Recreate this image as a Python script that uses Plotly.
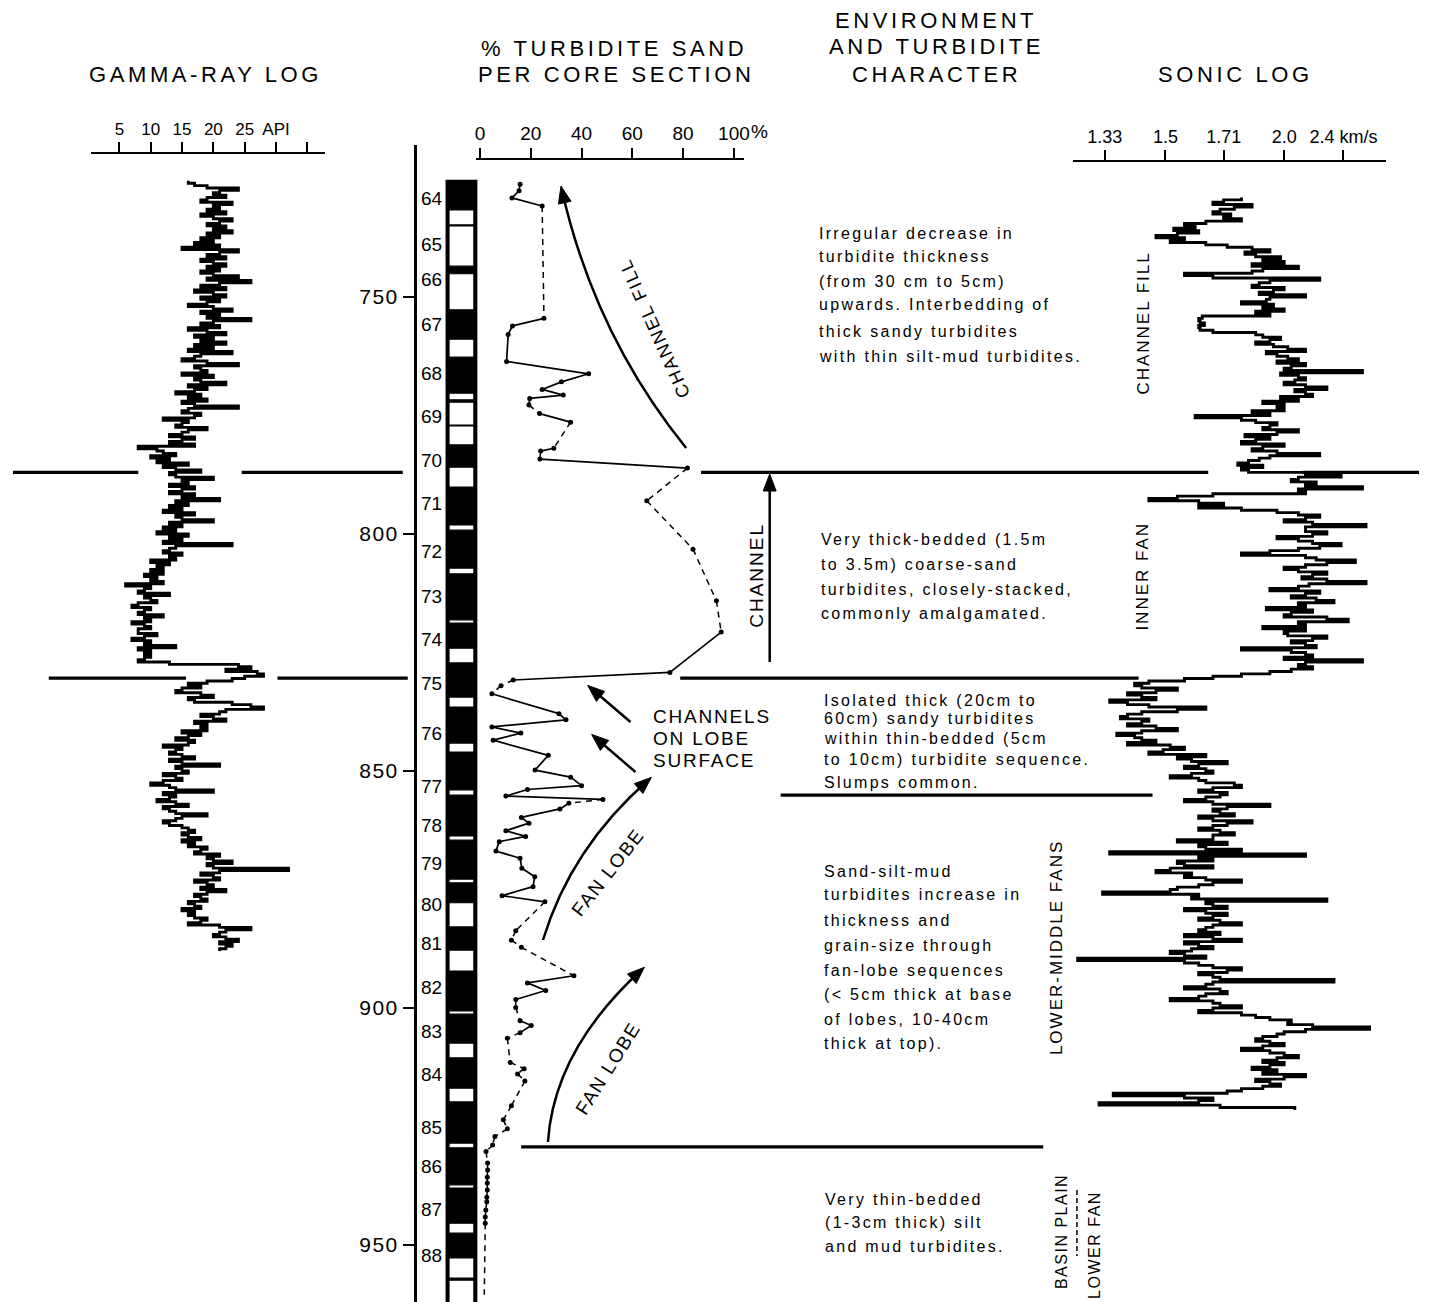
import math
import plotly.graph_objects as go

W, H = 1432, 1302          # browser window
OFF = 8                    # default page body margin
FW, FH = W - OFF, H - OFF  # figure size so that the page fits the window
FONT = "Liberation Sans"

# ---------------- data ----------------
DEPTH_TICKS = [750, 800, 850, 900, 950]

GR_TICKS = [5, 10, 15, 20, 25, 30, 35]
GR_TICK_TEXT = ["5", "10", "15", "20", "25", "API", ""]

SAND_TICKS = [0, 20, 40, 60, 80, 100]
SAND_TICK_TEXT = ["0", "20", "40", "60", "80", "100"]

SONIC_TICK_KMS = [1.33, 1.5, 1.71, 2.0, 2.4]
SONIC_TICK_TEXT = ["1.33", "1.5", "1.71", "2.0", "2.4 km/s"]

# gamma-ray log, API units, sampled every 0.5 m from 725.5 m
GR_TOP = 725.5
GR_STEP = 0.5
GR_API = [
    16, 17, 19, 24, 21, 20, 22, 19, 18, 23,
    20, 21, 19, 22, 18, 20, 23, 21, 19, 22,
    20, 23, 19, 21, 18, 20, 17, 21, 15, 24,
    21, 19, 22, 18, 20, 22, 19, 21, 18, 20,
    24, 19, 26, 21, 18, 22, 17, 20, 22, 18,
    21, 19, 16, 20, 23, 18, 21, 19, 26, 20,
    18, 21, 16, 19, 22, 17, 20, 18, 22, 17,
    20, 16, 23, 18, 17, 15, 19, 24, 17, 18,
    19, 15, 20, 17, 18, 22, 16, 19, 17, 14,
    18, 16, 19, 15, 17, 24, 16, 15, 18, 17,
    12, 16, 15, 14, 19, 16, 15, 13, 17, 15,
    13, 17, 8, 11, 12, 14, 10, 13, 11, 16,
    12, 14, 18, 13, 14, 20, 15, 16, 13, 17,
    15, 13, 17, 15, 21, 14, 16, 13, 15, 12,
    17, 14, 15, 20, 13, 15, 12, 14, 11, 16,
    13, 15, 12, 23, 14, 13, 12, 15, 13, 14,
    10, 13, 11, 12, 10, 12, 9, 11, 10, 12,
    6, 10, 9, 8, 13, 9, 10, 11, 8, 7,
    10, 9, 8, 12, 9, 10, 7, 9, 10, 8,
    8, 11, 9, 7, 10, 9, 14, 8, 10, 9,
    10, 9, 8, 13, 24, 26, 22, 27, 28, 25,
    23, 19, 16, 18, 15, 14, 18, 20, 16, 17,
    23, 26, 28, 22, 21, 18, 20, 22, 17, 19,
    18, 19, 15, 18, 16, 14, 17, 16, 12, 15,
    14, 13, 15, 17, 13, 15, 21, 14, 15, 16,
    12, 14, 15, 12, 10, 13, 14, 20, 12, 14,
    13, 11, 14, 16, 12, 13, 14, 19, 15, 14,
    12, 13, 15, 16, 17, 15, 16, 18, 15, 17,
    16, 19, 18, 17, 21, 19, 20, 23, 19, 20,
    32, 21, 18, 20, 21, 17, 19, 20, 18, 22,
    19, 17, 18, 19, 16, 17, 18, 15, 17, 16,
    17, 19, 18, 16, 21, 26, 22, 21, 20, 22,
    24, 21, 23, 22, 21,
]

# sonic log, interval transit time (us/m), sampled every 0.5 m from 729.0 m
SONIC_TOP = 729.0
SONIC_STEP = 0.5
SONIC_DT = [
    560, 585, 600, 545, 570, 590, 600, 575, 585, 560,
    610, 640, 625, 655, 620, 650, 680, 640, 660, 610,
    580, 545, 520, 555, 540, 505, 530, 500, 545, 480,
    530, 545, 640, 600, 450, 520, 535, 545, 500, 515,
    535, 470, 520, 525, 560, 515, 530, 500, 540, 520,
    615, 620, 618, 612, 620, 618, 600, 540, 530, 505,
    520, 540, 515, 495, 470, 525, 510, 495, 480, 510,
    470, 490, 500, 390, 505, 480, 470, 485, 500, 470,
    440, 485, 470, 460, 505, 480, 530, 500, 510, 500,
    545, 520, 625, 560, 540, 510, 520, 530, 480, 510,
    555, 520, 540, 560, 500, 530, 545, 510, 450, 520,
    535, 550, 565, 530, 560, 550, 470, 420, 480, 490,
    455, 470, 390, 480, 470, 600, 650, 690, 620, 585,
    620, 560, 510, 480, 450, 470, 500, 460, 385, 470,
    470, 440, 460, 510, 480, 460, 420, 450, 480, 520,
    560, 470, 455, 400, 440, 470, 500, 480, 440, 460,
    475, 440, 385, 465, 480, 520, 450, 470, 490, 455,
    430, 480, 470, 525, 460, 490, 500, 440, 410, 480,
    470, 530, 470, 500, 495, 440, 460, 490, 470, 455,
    560, 490, 470, 460, 500, 390, 470, 480, 460, 490,
    520, 560, 600, 640, 690, 710, 700, 650, 680, 720,
    700, 680, 745, 720, 690, 610, 650, 700, 720, 730,
    690, 700, 720, 680, 650, 700, 735, 710, 700, 680,
    720, 660, 640, 670, 690, 610, 650, 630, 580, 620,
    640, 610, 600, 630, 660, 620, 610, 570, 560, 600,
    620, 580, 590, 610, 640, 600, 520, 580, 600, 590,
    570, 620, 600, 545, 580, 600, 620, 590, 570, 600,
    600, 650, 580, 620, 610, 560, 745, 470, 620, 600,
    650, 640, 600, 660, 680, 630, 640, 610, 560, 600,
    620, 650, 660, 755, 620, 630, 440, 610, 600, 580,
    640, 610, 580, 600, 620, 590, 560, 600, 610, 620,
    590, 640, 600, 560, 640, 620, 600, 630, 660, 640,
    610, 790, 640, 620, 600, 560, 580, 620, 600, 590,
    430, 600, 610, 640, 590, 580, 610, 620, 660, 600,
    590, 560, 600, 620, 560, 540, 520, 490, 495, 460,
    380, 470, 500, 510, 530, 540, 520, 500, 530, 560,
    520, 500, 480, 510, 530, 500, 520, 545, 510, 530,
    470, 500, 540, 520, 505, 530, 560, 580, 740, 640,
    600, 620, 760, 590, 485,
]

# % turbidite sand per core section
SAND_DEPTH = [
    726.2, 727.6, 729.1, 730.8, 754.5, 756.1, 757.9, 763.6, 766.2, 767.9,
    769.5, 770.7, 771.4, 772.8, 774.6, 776.4, 781.9, 782.5, 784.2, 786.1,
    793.0, 803.2, 814.1, 820.7, 829.2, 830.8, 832.0, 833.7, 837.9, 839.2,
    840.7, 842.0, 843.5, 846.7, 849.8, 851.3, 853.1, 853.9, 855.3, 856.0,
    856.8, 858.0, 859.8, 861.0, 862.6, 863.8, 864.9, 866.9, 868.4, 870.5,
    872.3, 874.4, 876.3, 877.6, 883.7, 885.7, 887.2, 893.2, 894.7, 896.3,
    898.2, 899.9, 902.7, 903.7, 905.2, 906.4, 911.5, 912.8, 913.9, 915.4,
    920.6, 923.6, 925.5, 927.1, 928.9, 930.3, 932.7, 934.2, 935.7, 936.9,
    938.4, 939.9, 940.9, 942.6, 944.1, 945.4, 960.5,
]
SAND_PCT = [
    15.8, 15.4, 12.6, 24.5, 25.2, 12.8, 11.1, 10.5, 42.8, 32.1,
    24.5, 32.8, 19.6, 19.3, 23.5, 35.7, 29.1, 23.9, 23.6, 81.7,
    65.7, 83.9, 93.1, 95.0, 74.8, 13.1, 8.3, 4.7, 31.1, 33.9,
    4.7, 16.1, 5.2, 26.9, 21.7, 35.7, 40.0, 18.7, 10.2, 48.4,
    35.0, 31.5, 16.3, 19.3, 10.2, 18.0, 7.6, 6.3, 15.8, 16.5,
    21.6, 20.9, 8.7, 25.6, 14.1, 12.4, 16.3, 37.0, 18.7, 25.9,
    14.1, 14.1, 15.8, 20.2, 15.8, 10.8, 11.9, 17.4, 14.8, 17.7,
    12.4, 9.2, 10.8, 5.9, 5.0, 2.4, 3.0, 3.0, 2.9, 2.9,
    2.9, 2.7, 2.7, 2.3, 2.1, 2.1, 1.7,
]
SAND_DASHED_SEGMENTS = [0, 3, 13, 15, 17, 19, 20, 21, 22, 25, 26, 39, 53, 54, 55,
                        56, 60, 61, 64, 65] + list(range(66, 86))

# core sections
CORE_NUMBERS = list(range(64, 89))
CORE_LABEL_DEPTH = [729.3, 739.0, 746.3, 755.7, 766.2, 775.3, 784.4, 793.5, 803.7,
                    813.2, 822.2, 831.6, 842.0, 853.2, 861.4, 869.6, 878.1, 886.4,
                    895.6, 905.0, 914.1, 925.3, 933.5, 942.5, 952.3]
CORE_TOP = 725.5
CORE_BOTTOM = 962.5
CORE_GAPS = [(731.6, 734.8), (735.0, 743.5), (745.1, 752.7), (758.9, 762.7),
             (770.3, 771.7), (772.2, 777.0), (777.2, 781.2), (785.9, 790.1),
             (798.1, 799.2), (807.2, 808.4), (818.1, 818.8), (824.1, 827.2),
             (834.4, 836.5), (844.1, 846.0), (854.0, 855.1), (863.7, 864.6),
             (872.8, 873.6), (877.8, 882.9), (887.8, 892.2), (900.6, 901.3),
             (907.4, 910.5), (916.9, 919.8), (928.5, 929.5), (937.3, 938.0),
             (945.4, 947.5), (952.7, 957.0), (957.4, 962.5)]

# environment boundaries (depth, m)
BOUNDARY_DEPTHS = [787.0, 830.4, 855.1, 929.3]

# ---------------- helpers (page pixels -> paper) ----------------
def px(x):
    return (x - OFF) / FW


def py(y):
    return 1 - (y - OFF) / FH


DEPTH_TOP_PX = 145
PX_PER_M = 4.74
Y_TOP = 750 - (297 - DEPTH_TOP_PX) / PX_PER_M
Y_BOT = 750 + (H - 297) / PX_PER_M

shapes = []
annotations = []


def text(x, y, s, size, xanchor="center", angle=0, ls=0):
    t = f'<span style="letter-spacing:{ls}px">{s}</span>' if ls else s
    annotations.append(dict(
        x=px(x), y=py(y), xref="paper", yref="paper", text=t, showarrow=False,
        xanchor=xanchor, yanchor="middle", textangle=angle,
        font=dict(family=FONT, size=size, color="black")))


def arrow(points, head=17, half=6.5, width=2.5):
    if len(points) == 2:
        (x0, y0), (x1, y1) = points
        cx, cy = x0, y0
        path = f"M {px(x0)},{py(y0)} L {px(x1)},{py(y1)}"
    else:
        (x0, y0), (cx, cy), (x1, y1) = points
        path = f"M {px(x0)},{py(y0)} Q {px(cx)},{py(cy)} {px(x1)},{py(y1)}"
    shapes.append(dict(type="path", path=path, xref="paper", yref="paper",
                       line=dict(color="black", width=width)))
    dx, dy = x1 - cx, y1 - cy
    n = math.hypot(dx, dy)
    ux, uy = dx / n, dy / n
    tipx, tipy = x1 + ux * 4, y1 + uy * 4
    bx, by = tipx - ux * head, tipy - uy * head
    p1 = (bx - uy * half, by + ux * half)
    p2 = (bx + uy * half, by - ux * half)
    tri = (f"M {px(tipx)},{py(tipy)} L {px(p1[0])},{py(p1[1])} "
           f"L {px(p2[0])},{py(p2[1])} Z")
    shapes.append(dict(type="path", path=tri, xref="paper", yref="paper",
                       fillcolor="black", line=dict(color="black", width=1)))


# ---------------- traces ----------------
fig = go.Figure()

LOG_W = 2.9
gr_depth = [GR_TOP + i * GR_STEP for i in range(len(GR_API) + 1)]
fig.add_trace(go.Scatter(x=GR_API + [GR_API[-1]], y=gr_depth, mode="lines",
                         line=dict(color="black", width=LOG_W, shape="vh"),
                         xaxis="x", yaxis="y", hoverinfo="skip"))

son_depth = [SONIC_TOP + i * SONIC_STEP for i in range(len(SONIC_DT) + 1)]
fig.add_trace(go.Scatter(x=SONIC_DT + [SONIC_DT[-1]], y=son_depth, mode="lines",
                         line=dict(color="black", width=LOG_W, shape="vh"),
                         xaxis="x3", yaxis="y", hoverinfo="skip"))

sx, sy, dx_, dy_ = [], [], [], []
for i in range(len(SAND_DEPTH) - 1):
    if i in SAND_DASHED_SEGMENTS:
        dx_ += [SAND_PCT[i], SAND_PCT[i + 1], None]
        dy_ += [SAND_DEPTH[i], SAND_DEPTH[i + 1], None]
    else:
        sx += [SAND_PCT[i], SAND_PCT[i + 1], None]
        sy += [SAND_DEPTH[i], SAND_DEPTH[i + 1], None]
fig.add_trace(go.Scatter(x=sx, y=sy, mode="lines", line=dict(color="black", width=1.7),
                         xaxis="x2", yaxis="y", hoverinfo="skip"))
fig.add_trace(go.Scatter(x=dx_, y=dy_, mode="lines",
                         line=dict(color="black", width=1.5, dash="6px,5px"),
                         xaxis="x2", yaxis="y", hoverinfo="skip"))
fig.add_trace(go.Scatter(x=SAND_PCT[:-1], y=SAND_DEPTH[:-1], mode="markers",
                         marker=dict(color="black", size=5),
                         xaxis="x2", yaxis="y", hoverinfo="skip"))

# ---------------- core column ----------------
CX0, CX1 = 447, 477
shapes.append(dict(type="rect", xref="paper", yref="y", x0=px(CX0), x1=px(CX1),
                   y0=CORE_TOP, y1=CORE_BOTTOM, fillcolor="black",
                   line=dict(color="black", width=2), layer="above"))
for a, b in CORE_GAPS:
    shapes.append(dict(type="rect", xref="paper", yref="y", x0=px(CX0 + 2.5), x1=px(CX1 - 2.5),
                       y0=a, y1=b, fillcolor="white",
                       line=dict(color="black", width=1.2), layer="above"))
for n, d in zip(CORE_NUMBERS, CORE_LABEL_DEPTH):
    annotations.append(dict(x=px(432), y=d, xref="paper", yref="y", text=str(n),
                            showarrow=False, xanchor="center", yanchor="middle",
                            font=dict(family=FONT, size=19, color="black")))

# ---------------- boundaries ----------------
BOUNDARY_SEGMENTS_PX = [
    [(11, 137), (241, 403), (703, 1213), (1308, 1425)],
    [(47, 185), (277, 408), (682, 1143)],
    [(783, 1157)],
    [(522, 1047)],
]
for d, segs in zip(BOUNDARY_DEPTHS, BOUNDARY_SEGMENTS_PX):
    for a, b in segs:
        shapes.append(dict(type="line", xref="paper", yref="y", x0=px(a), x1=px(b),
                           y0=d, y1=d, line=dict(color="black", width=3.2)))

# ---------------- arrows ----------------
arrow([(688, 448), (596, 335), (563, 190)])
arrow([(772, 662), (772, 478)])
arrow([(632, 722), (592, 688)])
arrow([(637, 772), (596, 737)])
arrow([(544, 940), (572, 848), (650, 780)])
arrow([(549, 1142), (555, 1050), (643, 970)])

# ---------------- text ----------------
TITLE = 22
text(205, 75, "GAMMA-RAY LOG", TITLE, ls=3.6)
text(615, 48, "% TURBIDITE SAND", TITLE, ls=3.6)
text(617, 75, "PER CORE SECTION", TITLE, ls=3.6)
text(939, 20, "ENVIRONMENT", TITLE, ls=3.6)
text(940, 47, "AND TURBIDITE", TITLE, ls=3.6)
text(940, 75, "CHARACTER", TITLE, ls=3.6)
text(1240, 75, "SONIC LOG", TITLE, ls=3.6)

text(762, 131, "%", 19)

BODY = 16
LS = 2.3
blocks = [
    (820, [233, 257, 281, 305, 331, 356],
     ["Irregular decrease in", "turbidite thickness", "(from 30 cm to 5cm)",
      "upwards. Interbedding of", "thick sandy turbidites",
      "with thin silt-mud turbidites."]),
    (822, [540, 564, 589, 613],
     ["Very thick-bedded (1.5m", "to 3.5m) coarse-sand",
      "turbidites, closely-stacked,", "commonly amalgamated."]),
    (825, [700, 719, 739, 759, 782],
     ["Isolated thick (20cm to", "60cm) sandy turbidites",
      "within thin-bedded (5cm", "to 10cm) turbidite sequence.", "Slumps common."]),
    (825, [871, 895, 920, 945, 970, 994, 1019, 1043],
     ["Sand-silt-mud", "turbidites increase in", "thickness and",
      "grain-size through", "fan-lobe sequences", "(&lt; 5cm thick at base",
      "of lobes, 10-40cm", "thick at top)."]),
    (826, [1199, 1222, 1246],
     ["Very thin-bedded", "(1-3cm thick) silt", "and mud turbidites."]),
]
for x0, ys, lines in blocks:
    for y, s in zip(ys, lines):
        text(x0, y, s, BODY, xanchor="left", ls=LS)

text(1147, 323, "CHANNEL FILL", 17, angle=-90, ls=2)
text(1146, 576, "INNER FAN", 17, angle=-90, ls=2)
text(1060, 948, "LOWER-MIDDLE FANS", 17, angle=-90, ls=2)
text(1065, 1232, "BASIN PLAIN", 16, angle=-90, ls=1.5)
text(1098, 1245, "LOWER FAN", 16, angle=-90, ls=1.5)
shapes.append(dict(type="line", xref="paper", yref="paper", x0=px(1081), x1=px(1081),
                   y0=py(1190), y1=py(1256), line=dict(color="black", width=1.5, dash="5px,3px")))

text(758, 575, "CHANNEL", 19, angle=-90, ls=2)
text(656, 328, "CHANNEL FILL", 18, angle=-114, ls=2)
text(653, 716, "CHANNELS", 19, xanchor="left", ls=1.8)
text(653, 738, "ON LOBE", 19, xanchor="left", ls=1.8)
text(653, 760, "SURFACE", 19, xanchor="left", ls=1.8)
text(609, 872, "FAN LOBE", 19, angle=-52, ls=1.5)
text(609, 1068, "FAN LOBE", 19, angle=-58, ls=1.5)

# ---------------- axes ----------------
def top_axis(x0, x1, vlo, vhi, ypx, tickvals, ticktext, size):
    return dict(domain=[px(x0), px(x1)], range=[vlo, vhi], anchor="free",
                position=py(ypx), side="top", showline=True, linecolor="black",
                linewidth=2.4, ticks="outside", ticklen=10, tickwidth=2.2,
                tickcolor="black", tickvals=tickvals, ticktext=ticktext,
                tickfont=dict(family=FONT, size=size, color="black"),
                showgrid=False, zeroline=False, fixedrange=True)


gr_lo = (89 - 86.5) / 6.3
gr_hi = (325 - 86.5) / 6.3
sand_lo = (477 - 480.6) / 2.554
sand_hi = (746 - 480.6) / 2.554
son_ticks = [1000 / v for v in SONIC_TICK_KMS]
son_lo = son_ticks[0] + (1109 - 1077) / 0.716
son_hi = son_ticks[0] - (1392 - 1109) / 0.716

fig.update_layout(
    width=FW, height=FH, margin=dict(l=0, r=0, t=0, b=0),
    paper_bgcolor="white", plot_bgcolor="white", showlegend=False,
    xaxis=top_axis(89, 325, gr_lo, gr_hi, 153, GR_TICKS, GR_TICK_TEXT, 17),
    xaxis2=top_axis(477, 746, sand_lo, sand_hi, 159, SAND_TICKS, SAND_TICK_TEXT, 19),
    xaxis3=top_axis(1077, 1392, son_lo, son_hi, 161, son_ticks, SONIC_TICK_TEXT, 18),
    yaxis=dict(domain=[0, py(DEPTH_TOP_PX)], range=[Y_BOT, Y_TOP], anchor="free",
               position=px(415), side="left", showline=True, linecolor="black",
               linewidth=2.5, ticks="outside", ticklen=11, tickwidth=2,
               tickcolor="black", tickvals=DEPTH_TICKS,
               ticktext=[f'<span style="letter-spacing:1.5px">{v}</span>' for v in DEPTH_TICKS],
               tickfont=dict(family=FONT, size=21, color="black"),
               showgrid=False, zeroline=False, fixedrange=True),
    shapes=shapes, annotations=annotations,
)

fig.write_html("out.html")
